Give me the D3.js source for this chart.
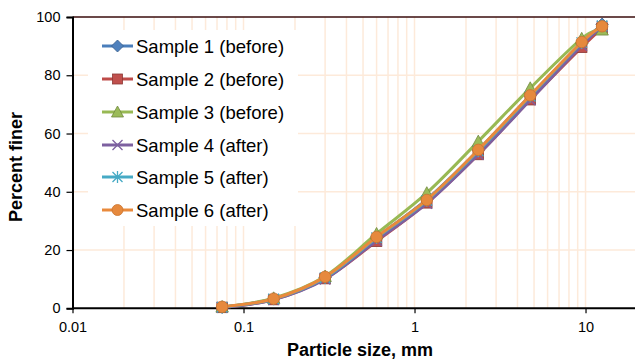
<!DOCTYPE html>
<html>
<head>
<meta charset="utf-8">
<script src="https://cdn.jsdelivr.net/npm/d3@7"></script>
<style>
  html, body { margin: 0; padding: 0; background: #fff; }
  svg { display: block; font-family: "Liberation Sans", Arial, sans-serif; }
</style>
</head>
<body>
<svg id="chart" width="635" height="359"></svg>
<script>
// Sieve sizes (mm) and percent finer for each sample
const sizes = [0.075, 0.15, 0.3, 0.6, 1.18, 2.36, 4.75, 9.5, 12.5];
const sample1 = [0.4, 3.3, 10.6, 24.4, 37.4, 54.3, 73.0, 91.0, 97.5];
const sample2 = [0.3, 3.0, 10.2, 23.0, 36.2, 52.8, 71.6, 89.6, 96.2];
const sample3 = [0.5, 3.5, 11.0, 25.6, 39.6, 57.3, 75.6, 92.6, 95.6];
const sample4 = [0.3, 3.0, 10.0, 23.3, 36.0, 52.8, 71.5, 90.2, 96.8];
const sample5 = [0.4, 3.2, 10.5, 24.2, 37.0, 54.0, 72.8, 91.2, 97.0];
const sample6 = [0.5, 3.3, 10.8, 24.5, 37.2, 54.4, 73.1, 91.4, 96.8];
const seriesNames = ["Sample 1 (before)", "Sample 2 (before)", "Sample 3 (before)",
                     "Sample 4 (after)", "Sample 5 (after)", "Sample 6 (after)"];
const yTicks = [0, 20, 40, 60, 80, 100];
const xTicks = [0.01, 0.1, 1, 10];

const styles = [
  { line: "#4A7EBB", fill: "#4F81BD", stroke: "#385D8A", shape: "diamond" },
  { line: "#BE4B48", fill: "#C0504D", stroke: "#8C3836", shape: "square" },
  { line: "#98B954", fill: "#9BBB59", stroke: "#71893F", shape: "triangle" },
  { line: "#7D60A0", fill: "#8064A2", stroke: "#7D60A0", shape: "x" },
  { line: "#46AAC5", fill: "#4BACC6", stroke: "#46AAC5", shape: "star" },
  { line: "#E98A3C", fill: "#E6893D", stroke: "#C9732F", shape: "circle" }
];
const seriesValues = [sample1, sample2, sample3, sample4, sample5, sample6];

const svg = d3.select("#chart");
const plotLeft = 72.5, plotRight = 637, plotTop = 17, plotBottom = 308.3;

const x = d3.scaleLog().domain([0.01, 20]).range([plotLeft, plotRight]);
const y = d3.scaleLinear().domain([0, 100]).range([plotBottom, plotTop]);

const gridColor = "#FDEADA";

// minor/major vertical gridlines (1..9 per decade)
const vGrid = [];
for (let d = 0.01; d < 20; d *= 10) {
  for (let k = 1; k <= 9; k++) {
    const v = +(d * k).toPrecision(3);
    if (v > 0.01 && v <= 20) vGrid.push(v);
  }
}
svg.append("g").selectAll("line").data(vGrid).join("line")
  .attr("x1", d => x(d)).attr("x2", d => x(d))
  .attr("y1", plotTop).attr("y2", plotBottom)
  .attr("stroke", gridColor).attr("stroke-width", 1.5);

// horizontal gridlines
svg.append("g").selectAll("line").data(yTicks.filter(v => v > 0 && v < 100)).join("line")
  .attr("x1", plotLeft).attr("x2", 635)
  .attr("y1", d => y(d)).attr("y2", d => y(d))
  .attr("stroke", gridColor).attr("stroke-width", 1.5);

// legend background
svg.append("rect").attr("x", 88).attr("y", 30).attr("width", 210).attr("height", 196)
  .attr("fill", "#fff");

// top border
svg.append("line").attr("x1", plotLeft).attr("x2", 635).attr("y1", y(100)).attr("y2", y(100))
  .attr("stroke", "#3a0c0c").attr("stroke-width", 1.5);

// y axis
const yAxis = d3.axisLeft(y).tickValues(yTicks).tickSize(6).tickPadding(6).tickFormat(d3.format("d"));
const gy = svg.append("g").attr("transform", `translate(${plotLeft},0)`).call(yAxis);
gy.select(".domain").attr("stroke", "#000").attr("stroke-width", 2);
gy.selectAll(".tick line").attr("stroke", "#000").attr("stroke-width", 1.2);
gy.selectAll(".tick text").attr("font-size", 14.5).attr("fill", "#000")
  .attr("font-family", "Liberation Sans, Arial, sans-serif");

// x axis
const xAxis = d3.axisBottom(x).tickValues(xTicks).tickSize(5).tickPadding(8)
  .tickFormat(d => d >= 1 ? d3.format("d")(d) : String(d));
const gx = svg.append("g").attr("transform", `translate(0,${plotBottom})`).call(xAxis);
gx.select(".domain").attr("stroke", "#000").attr("stroke-width", 2)
  .attr("d", `M${plotLeft},0H635`);
gx.selectAll(".tick line").attr("stroke", "#000").attr("stroke-width", 1.2);
gx.selectAll(".tick text").attr("font-size", 14.5).attr("fill", "#000")
  .attr("font-family", "Liberation Sans, Arial, sans-serif");

// axis titles
svg.append("text").attr("x", 360).attr("y", 356).attr("text-anchor", "middle")
  .attr("font-size", 18).attr("font-weight", "bold").text("Particle size, mm");
svg.append("text").attr("transform", "translate(22,167) rotate(-90)")
  .attr("text-anchor", "middle").attr("font-size", 18).attr("font-weight", "bold")
  .text("Percent finer");

// marker drawing
function drawMarker(g, st, size) {
  const s = size / 2;
  if (st.shape === "diamond") {
    g.append("path").attr("d", `M0,${-s - 1}L${s + 1},0L0,${s + 1}L${-s - 1},0Z`)
      .attr("fill", st.fill).attr("stroke", st.stroke).attr("stroke-width", 0.8);
  } else if (st.shape === "square") {
    g.append("rect").attr("x", -s).attr("y", -s).attr("width", size).attr("height", size)
      .attr("fill", st.fill).attr("stroke", st.stroke).attr("stroke-width", 0.8);
  } else if (st.shape === "triangle") {
    g.append("path").attr("d", `M0,${-s - 1}L${s + 1},${s}L${-s - 1},${s}Z`)
      .attr("fill", st.fill).attr("stroke", st.stroke).attr("stroke-width", 0.8);
  } else if (st.shape === "x") {
    g.append("path").attr("d", `M${-s},${-s}L${s},${s}M${-s},${s}L${s},${-s}`)
      .attr("stroke", st.stroke).attr("stroke-width", 1.3).attr("fill", "none");
  } else if (st.shape === "star") {
    g.append("path").attr("d", `M${-s},${-s}L${s},${s}M${-s},${s}L${s},${-s}M0,${-s - 1}L0,${s + 1}`)
      .attr("stroke", st.stroke).attr("stroke-width", 1.3).attr("fill", "none");
  } else {
    g.append("circle").attr("r", s + 0.5)
      .attr("fill", st.fill).attr("stroke", st.stroke).attr("stroke-width", 0.8);
  }
}

// series lines and markers
const line = d3.line().x(d => x(d[0])).y(d => y(d[1])).curve(d3.curveCatmullRom.alpha(0));
seriesValues.forEach((vals, i) => {
  const st = styles[i];
  const pts = sizes.map((s, j) => [s, vals[j]]);
  const g = svg.append("g");
  g.append("path").datum(pts).attr("d", line)
    .attr("fill", "none").attr("stroke", st.line).attr("stroke-width", 3)
    .attr("stroke-linejoin", "round");
  pts.forEach(p => {
    const m = g.append("g").attr("transform", `translate(${x(p[0])},${y(p[1])})`);
    drawMarker(m, st, 10.5);
  });
});

// legend entries
const legY = [46, 79, 112, 145, 177, 210];
seriesNames.forEach((name, i) => {
  const st = styles[i];
  const g = svg.append("g").attr("transform", `translate(0,${legY[i]})`);
  g.append("line").attr("x1", 102).attr("x2", 133).attr("y1", 0).attr("y2", 0)
    .attr("stroke", st.line).attr("stroke-width", 3);
  const m = g.append("g").attr("transform", "translate(117.5,0)");
  drawMarker(m, st, 10);
  g.append("text").attr("x", 136).attr("y", 6.5).attr("font-size", 18.5)
    .attr("fill", "#000").text(name);
});
</script>
</body>
</html>
